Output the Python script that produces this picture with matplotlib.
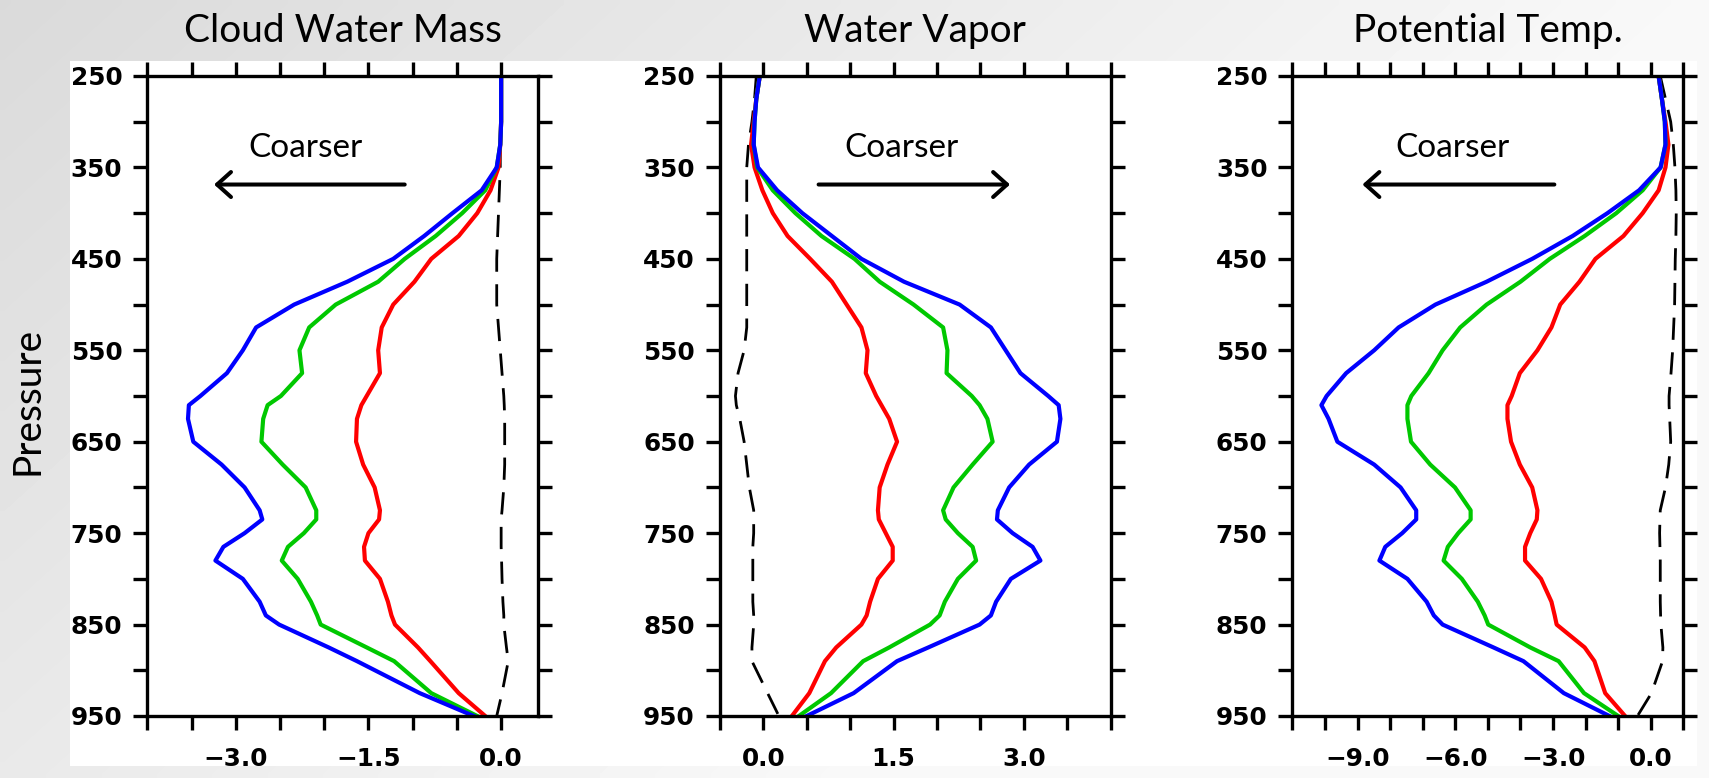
"""Vertical profiles of resolution differences: cloud water, vapor, potential temperature."""
import numpy as np
import matplotlib
matplotlib.use("Agg")
import matplotlib.pyplot as plt
from matplotlib.patches import Rectangle
from matplotlib.font_manager import FontProperties

# ── data ──────────────────────────────────────────────────────────────────────
LEVELS = [250, 275, 300, 325, 350, 375, 400, 425, 450, 475,
          500, 525, 550, 575, 600, 610, 625, 650, 675, 700,
          725, 735, 750, 765, 780, 800, 825, 840, 850, 875,
          890, 925, 950]

# Cloud Water Mass
cwm_blue = [0.00, 0.00, 0.00, -0.01, -0.05, -0.22, -0.55, -0.87, -1.22, -1.74,
            -2.34, -2.77, -2.92, -3.10, -3.40, -3.53, -3.54, -3.48, -3.16, -2.90,
            -2.73, -2.70, -2.90, -3.14, -3.23, -2.92, -2.73, -2.66, -2.51, -1.95,
            -1.63, -0.92, -0.31]
cwm_green = [0.00, 0.00, 0.00, -0.01, -0.05, -0.18, -0.44, -0.74, -1.09, -1.39,
             -1.87, -2.17, -2.28, -2.25, -2.49, -2.64, -2.69, -2.71, -2.47, -2.21,
             -2.09, -2.09, -2.23, -2.41, -2.48, -2.30, -2.15, -2.08, -2.04, -1.52,
             -1.21, -0.79, -0.27]
cwm_red = [0.00, 0.00, 0.00, -0.01, -0.03, -0.12, -0.27, -0.48, -0.79, -0.98,
           -1.22, -1.35, -1.39, -1.37, -1.52, -1.58, -1.63, -1.64, -1.56, -1.43,
           -1.37, -1.38, -1.50, -1.55, -1.54, -1.37, -1.28, -1.24, -1.20, -0.94,
           -0.80, -0.48, -0.18]
cwm_ctrl = [0.00, 0.00, 0.00, -0.01, -0.01, -0.02, -0.03, -0.04, -0.05, -0.05,
            -0.05, -0.03, -0.01, 0.01, 0.03, 0.035, 0.04, 0.04, 0.04, 0.03,
            0.01, 0.00, 0.00, 0.00, 0.005, 0.01, 0.02, 0.03, 0.03, 0.06,
            0.08, 0.01, -0.05]

# Water Vapor
wv_blue = [-0.04, -0.08, -0.10, -0.11, -0.06, 0.16, 0.45, 0.79, 1.13, 1.62,
           2.26, 2.62, 2.79, 2.96, 3.28, 3.40, 3.42, 3.38, 3.06, 2.83,
           2.70, 2.69, 2.87, 3.10, 3.19, 2.85, 2.68, 2.62, 2.49, 1.90,
           1.54, 1.04, 0.50]
wv_green = [-0.04, -0.08, -0.10, -0.11, -0.07, 0.11, 0.37, 0.67, 1.05, 1.34,
            1.73, 2.07, 2.12, 2.11, 2.40, 2.49, 2.58, 2.64, 2.41, 2.19,
            2.07, 2.10, 2.24, 2.41, 2.45, 2.24, 2.09, 2.03, 1.92, 1.45,
            1.15, 0.78, 0.41]
wv_red = [-0.04, -0.08, -0.11, -0.14, -0.10, -0.01, 0.11, 0.28, 0.54, 0.79,
          0.96, 1.13, 1.20, 1.18, 1.30, 1.36, 1.45, 1.54, 1.43, 1.34,
          1.32, 1.33, 1.41, 1.49, 1.49, 1.32, 1.23, 1.19, 1.13, 0.84,
          0.71, 0.53, 0.33]
wv_ctrl = [-0.08, -0.10, -0.13, -0.17, -0.19, -0.19, -0.19, -0.19, -0.19, -0.19,
           -0.19, -0.19, -0.22, -0.29, -0.32, -0.31, -0.27, -0.22, -0.19, -0.16,
           -0.11, -0.11, -0.11, -0.12, -0.12, -0.12, -0.12, -0.11, -0.11, -0.13,
           -0.13, 0.05, 0.18]

# Potential Temp.
pt_blue = [0.24, 0.34, 0.43, 0.45, 0.30, -0.36, -1.33, -2.40, -3.64, -5.04,
           -6.61, -7.74, -8.49, -9.35, -9.95, -10.11, -9.89, -9.62, -8.49, -7.68,
           -7.20, -7.20, -7.63, -8.15, -8.33, -7.47, -6.88, -6.66, -6.39, -4.83,
           -3.91, -2.67, -1.27]
pt_green = [0.24, 0.34, 0.43, 0.45, 0.30, -0.25, -1.06, -2.03, -3.10, -4.00,
            -5.04, -5.85, -6.39, -6.82, -7.35, -7.47, -7.47, -7.36, -6.77, -6.01,
            -5.53, -5.53, -5.91, -6.23, -6.36, -5.80, -5.31, -5.10, -4.99, -3.70,
            -2.83, -2.05, -1.00]
pt_red = [0.24, 0.34, 0.45, 0.54, 0.45, 0.24, -0.25, -0.84, -1.70, -2.19,
          -2.78, -3.05, -3.48, -4.02, -4.27, -4.40, -4.40, -4.29, -4.02, -3.64,
          -3.48, -3.50, -3.70, -3.86, -3.86, -3.37, -3.05, -2.95, -2.89, -2.03,
          -1.73, -1.40, -0.79]
pt_ctrl = [0.29, 0.45, 0.61, 0.69, 0.74, 0.77, 0.78, 0.77, 0.75, 0.74,
           0.73, 0.70, 0.67, 0.62, 0.56, 0.56, 0.58, 0.61, 0.55, 0.45,
           0.29, 0.28, 0.27, 0.28, 0.29, 0.29, 0.29, 0.30, 0.31, 0.37,
           0.36, 0.02, -0.41]

TITLES = ["Cloud Water Mass", "Water Vapor", "Potential Temp."]
XLIMS = [(-4.0, 0.42), (-0.5, 4.0), (-11.0, 1.0)]
XTICK_STEP = [0.5, 0.5, 1.0]
XLABELS = [[-3.0, -1.5, 0.0], [0.0, 1.5, 3.0], [-9.0, -6.0, -3.0, 0.0]]
# arrow (tail, tip) in data units, "Coarser" text centre
ARROWS = [(-1.09, -3.245), (0.637, 2.84), (-2.96, -8.85)]
TEXT_X = [-2.21, 1.59, -6.09]

SERIES = [
    (cwm_ctrl, cwm_red, cwm_green, cwm_blue),
    (wv_ctrl, wv_red, wv_green, wv_blue),
    (pt_ctrl, pt_red, pt_green, pt_blue),
]

# ── figure / background ──────────────────────────────────────────────────────
W, H = 1709, 778
fig = plt.figure(figsize=(W / 100, H / 100), dpi=100)

bg = fig.add_axes([0, 0, 1, 1], zorder=-10)
gx, gy = np.meshgrid(np.linspace(0, 1, 200), np.linspace(0, 1, 100))
shade = np.clip(0.855 + 0.12 * gx + 0.06 * gy, 0, 0.975)
bg.imshow(shade, cmap="gray", vmin=0, vmax=1, aspect="auto",
          extent=[0, 1, 1, 0], interpolation="bilinear")
bg.add_patch(Rectangle((70 / W, 61 / H), (1697 - 70) / W, (766 - 61) / H,
                       facecolor="white", edgecolor="none"))
bg.set_xlim(0, 1)
bg.set_ylim(1, 0)
bg.axis("off")

TICK_FONT = FontProperties(family="DejaVu Sans", weight="bold", size=17.8)
LINE_COLORS = ["#ff0000", "#00c800", "#0000ff"]

lefts = [147.3, 719.8, 1292.4]
ax_w = 391.0 / W
ax_b = 1 - 716 / H
ax_h = (716 - 76) / H

for i in range(3):
    ax = fig.add_axes([lefts[i] / W, ax_b, ax_w, ax_h])
    ctrl, red, green, blue = SERIES[i]

    ax.plot(ctrl, LEVELS, color="black", lw=2.0, dashes=(8, 4.5))
    for vals, c in zip((red, green, blue), LINE_COLORS):
        ax.plot(vals, LEVELS, color=c, lw=3.0, solid_joinstyle="round")

    x0, x1 = XLIMS[i]
    ax.set_xlim(x0, x1)
    ax.set_ylim(950, 250)

    xt = np.arange(x0, x1 + 1e-6, XTICK_STEP[i])
    xl = []
    for t in xt:
        lab = [v for v in XLABELS[i] if abs(v - t) < 1e-6]
        xl.append(f"{lab[0]:.1f}".replace("-", "\u2212") if lab else "")
    ax.set_xticks(xt, xl)
    yt = np.arange(250, 951, 50)
    ax.set_yticks(yt, [str(v) if (v - 250) % 100 == 0 else "" for v in yt])
    for lab in ax.get_xticklabels() + ax.get_yticklabels():
        lab.set_fontproperties(TICK_FONT)

    ax.tick_params(direction="out", length=10, width=2.4, top=True, right=True)
    ax.tick_params(axis="x", pad=12)
    ax.tick_params(axis="y", pad=8)
    for sp in ax.spines.values():
        sp.set_linewidth(2.4)

    tail, tip = ARROWS[i]
    ax.annotate("", xy=(tip, 368.7), xytext=(tail, 368.7),
                arrowprops=dict(arrowstyle="->,head_length=0.5,head_width=0.45",
                                lw=2.9, color="black", mutation_scale=20,
                                shrinkA=0, shrinkB=0))
    ax.text(TEXT_X[i], 339, "Coarser", ha="center", va="baseline",
            family="Lato", fontsize=24)

    cx = (lefts[i] + 195.5) / W
    fig.text(cx, 1 - 42 / H, TITLES[i], ha="center", va="baseline",
             family="Lato", fontsize=28)

fig.text(27 / W, 1 - 400.5 / H, "Pressure", rotation=90, ha="center",
         va="center", family="Lato", fontsize=28)

fig.savefig("out.png", dpi=100)
